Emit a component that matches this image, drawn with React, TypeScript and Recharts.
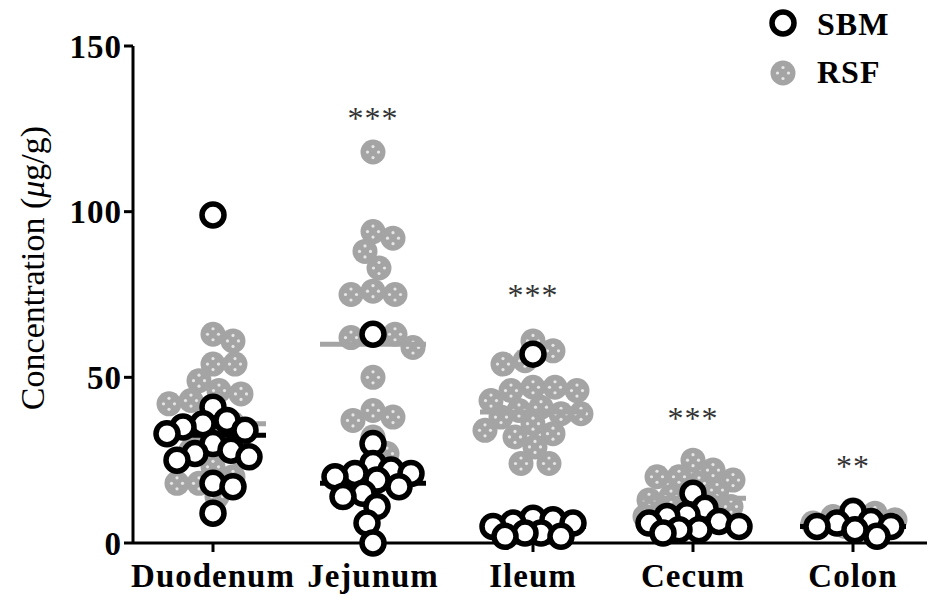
import React from 'react';
import { ScatterChart, Scatter, XAxis, YAxis } from 'recharts';

// ---- data ----
const categories = ['Duodenum', 'Jejunum', 'Ileum', 'Cecum', 'Colon'];

const sbmDuodenum = [99, 41, 37, 36, 35, 34, 33, 30, 28, 27, 26, 25, 18, 17, 9];
const sbmJejunum = [63, 30, 24, 22, 21, 21, 20, 19, 17, 15, 14, 11, 6, 0];
const sbmIleum = [57, 7.5, 7, 6, 6, 5, 3, 3, 2, 2];
const sbmCecum = [15, 10.5, 8.5, 8, 6.5, 6, 5, 4, 4, 3];
const sbmColon = [9.5, 6.5, 6, 5, 5, 4, 2];

const rsfDuodenum = [63, 61, 54, 54, 49, 46, 45, 43, 42, 39, 36, 33, 30, 28, 26, 23, 20, 18, 18, 14];
const rsfJejunum = [118, 94, 92, 88, 83, 76, 75, 75, 63, 63, 62, 59, 50, 40, 38, 37, 32, 27, 19];
const rsfIleum = [61, 58, 55, 54, 47, 47, 46, 46, 43, 41, 40, 39, 39, 38, 36, 34, 33, 32, 29, 24, 24];
const rsfCecum = [25, 22, 20, 20, 19, 18, 16, 14, 13, 11, 11, 11, 9, 8, 7];
const rsfColon = [10, 9, 8, 7, 6, 5, 5, 4];

const sbmMean = [32.5, 18, 5, 5, 5];
const rsfMean = [36, 60, 39.5, 13.5, 5.5];

const sigLabels = ['', '***', '***', '***', '**'];
const sigHeights = [0, 125, 71.5, 34.4, 19.9];

const yTicks = [0, 50, 100, 150];

// ---- layout ----
const W = 927;
const H = 598;
const LEFT = 133;
const TOP = 46;
const BOTTOM = 55;
const X_MIN = -0.5;
const X_MAX = 4.4625;
const PX_PER_CAT = (W - LEFT) / (X_MAX - X_MIN);
const PX_PER_UNIT = (H - TOP - BOTTOM) / 150;
const FONT = '"Liberation Serif", "Times New Roman", Times, serif';

// simple column-scatter layout: spread overlapping points sideways
const swarm = (values: number[], cat: number, minDist: number, maxOff: number) => {
  const placed: { ox: number; py: number }[] = [];
  return values.map((v) => {
    const py = v * PX_PER_UNIT;
    let best = 0;
    let bestGap = -1;
    for (let k = 0; k <= maxOff; k += 2) {
      const candidates = k === 0 ? [0] : [k, -k];
      let found = false;
      for (const ox of candidates) {
        let gap = Infinity;
        placed.forEach((p) => {
          gap = Math.min(gap, Math.hypot(p.ox - ox, p.py - py));
        });
        if (gap >= minDist) {
          best = ox;
          found = true;
          break;
        }
        if (gap > bestGap) {
          bestGap = gap;
          best = ox;
        }
      }
      if (found) break;
    }
    placed.push({ ox: best, py });
    return { x: cat + best / PX_PER_CAT, y: v };
  });
};

const sbmGroups = [sbmDuodenum, sbmJejunum, sbmIleum, sbmCecum, sbmColon];
const rsfGroups = [rsfDuodenum, rsfJejunum, rsfIleum, rsfCecum, rsfColon];

const sbmData = sbmGroups.flatMap((vals, i) => swarm(vals, i, 19, 46));
const rsfData = rsfGroups.flatMap((vals, i) => swarm(vals, i, 21, 48));
const sbmMeanData = sbmMean.map((y, i) => ({ x: i, y }));
const rsfMeanData = rsfMean.map((y, i) => ({ x: i, y }));
const sigData = sigLabels
  .map((label, i) => ({ x: i, y: sigHeights[i], label }))
  .filter((d) => d.label !== '');

const OpenCircle = (props: any) => (
  <circle cx={props.cx} cy={props.cy} r={11} fill="#fff" stroke="#000" strokeWidth={5.5} />
);

const GrayDot = (props: any) => {
  const { cx, cy } = props;
  return (
    <g>
      <circle cx={cx} cy={cy} r={12.5} fill="#a4a4a4" />
      <circle cx={cx} cy={cy - 5.5} r={1.6} fill="#e6e6e6" />
      <circle cx={cx - 5.5} cy={cy} r={1.6} fill="#e6e6e6" />
      <circle cx={cx + 5.5} cy={cy} r={1.6} fill="#e6e6e6" />
      <circle cx={cx} cy={cy + 5.5} r={1.6} fill="#e6e6e6" />
    </g>
  );
};

const meanLine = (color: string) => (props: any) => (
  <line x1={props.cx - 53} x2={props.cx + 53} y1={props.cy} y2={props.cy} stroke={color} strokeWidth={5} />
);

const SigText = (props: any) => (
  <text
    x={props.cx}
    y={props.cy}
    textAnchor="middle"
    fontFamily={FONT}
    fontSize={32}
    letterSpacing={1}
    fill="#333"
  >
    {props.payload.label}
  </text>
);

const YLabel = () => (
  <text
    x={32}
    y={268}
    transform="rotate(-90, 32, 268)"
    textAnchor="middle"
    dominantBaseline="central"
    fontFamily={FONT}
    fontSize={34}
    fill="#000"
  >
    Concentration (<tspan fontStyle="italic">μ</tspan>g/g)
  </text>
);

const LegendBox = () => (
  <div style={{ position: 'absolute', left: 766, top: 0, width: 161, height: 100 }}>
    <svg width={161} height={100}>
      <circle cx={17} cy={23} r={11} fill="#fff" stroke="#000" strokeWidth={5.5} />
      <text x={51} y={35} fontFamily={FONT} fontSize={32} fontWeight="bold" letterSpacing={1} fill="#000">
        SBM
      </text>
      <g>
        <circle cx={17} cy={73} r={12.5} fill="#a4a4a4" />
        <circle cx={17} cy={67.5} r={1.6} fill="#e6e6e6" />
        <circle cx={11.5} cy={73} r={1.6} fill="#e6e6e6" />
        <circle cx={22.5} cy={73} r={1.6} fill="#e6e6e6" />
        <circle cx={17} cy={78.5} r={1.6} fill="#e6e6e6" />
      </g>
      <text x={51} y={83} fontFamily={FONT} fontSize={32} fontWeight="bold" letterSpacing={1} fill="#000">
        RSF
      </text>
    </svg>
  </div>
);

const App: React.FC = () => {
  const tickStyle = { fill: '#000', fontSize: 33, fontWeight: 'bold', fontFamily: FONT, letterSpacing: 1 };
  return (
    <div style={{ position: 'absolute', left: 0, top: 0, width: W, height: H, background: '#fff' }}>
      <ScatterChart width={W} height={H} margin={{ top: TOP, right: 0, bottom: 0, left: 0 }}>
        <XAxis
          type="number"
          dataKey="x"
          domain={[X_MIN, X_MAX]}
          ticks={[0, 1, 2, 3, 4]}
          tickFormatter={(v: number) => categories[v] ?? ''}
          interval={0}
          height={BOTTOM}
          stroke="#000"
          strokeWidth={3}
          tickSize={9}
          tickMargin={12}
          tick={tickStyle}
        />
        <YAxis
          type="number"
          dataKey="y"
          domain={[0, 150]}
          ticks={yTicks}
          width={LEFT}
          stroke="#000"
          strokeWidth={3}
          tickSize={9}
          tickMargin={2}
          tick={tickStyle}
          label={{ content: () => <YLabel /> }}
        />
        <Scatter data={rsfData} shape={GrayDot} isAnimationActive={false} />
        <Scatter data={rsfMeanData} shape={meanLine('#a4a4a4')} isAnimationActive={false} />
        <Scatter data={sbmMeanData} shape={meanLine('#000')} isAnimationActive={false} />
        <Scatter data={sbmData} shape={OpenCircle} isAnimationActive={false} />
        <Scatter data={sigData} shape={SigText} isAnimationActive={false} />
      </ScatterChart>
      <LegendBox />
    </div>
  );
};

export default App;
